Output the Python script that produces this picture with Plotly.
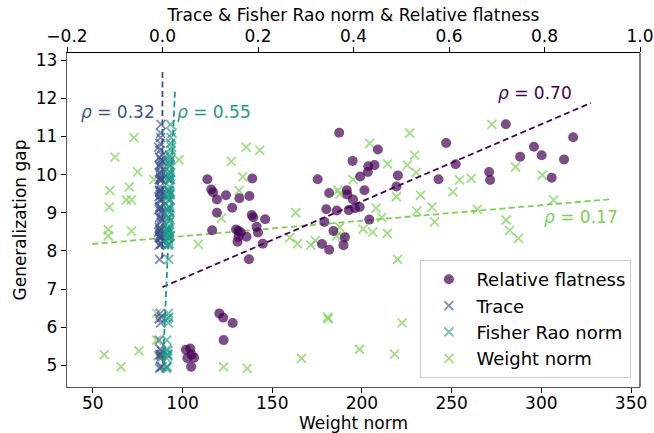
import plotly.graph_objects as go

# ---------------- data ----------------
# Generalization gap per model (shared by Weight norm, Trace, Fisher Rao norm)
gap = [10.97, 10.46, 10.07, 9.87, 9.58, 9.68, 9.34, 9.34, 9.15, 8.56, 8.39, 8.52,
       10.39, 10.72, 10.35, 9.94, 9.58, 8.86, 10.64, 8.17,
       5.28, 4.96, 5.38, 6.36, 5.66, 5.25, 4.96, 4.92, 5.18, 6.26, 6.22, 5.42, 5.29, 6.11, 7.78,
       9.00, 8.35, 8.19, 8.15, 8.27, 8.39, 8.62, 8.36, 8.57, 8.49, 8.46, 9.12, 8.88,
       9.87, 10.82, 10.28, 10.25, 11.09, 10.51, 10.05, 9.04, 9.59, 9.49, 9.42, 9.46,
       9.15, 8.76, 9.55, 9.86, 9.90, 9.09, 11.32, 10.20, 8.81, 8.54, 8.33, 9.99, 9.33]

weight_norm = [72.9, 62.3, 75.0, 84.0, 59.5, 70.3, 68.7, 71.5, 59.2, 58.6, 58.6, 71.6,
               98.0, 135.5, 127.2, 133.6, 131.5, 121.6, 143.1, 108.8,
               56.4, 65.7, 75.7, 85.5, 85.5, 86.4, 122.9, 136.0, 166.3, 180.9, 181.2, 198.7, 218.2, 222.4, 219.9,
               163.1, 159.8, 164.1, 171.5, 174.0, 185.9, 187.6, 189.3, 200.6, 206.0, 214.1, 207.9, 211.0,
               195.0, 204.3, 214.3, 225.3, 226.6, 229.4, 230.2, 230.6, 186.7, 187.6, 219.2, 232.7,
               239.0, 240.5, 250.7, 254.4, 260.9, 264.3, 272.4, 285.6, 280.4, 282.3, 287.3, 300.5, 306.8]

trace = [-0.004, -0.006, -0.002, -0.007, -0.003, -0.005, -0.001, -0.006, -0.004, -0.002, -0.007, -0.005,
         -0.003, -0.008, -0.001, -0.004, -0.006, -0.002, -0.005, -0.003,
         -0.006, -0.004, -0.002, -0.005, -0.007, -0.003, -0.001, -0.006, -0.004, -0.002, -0.007, -0.005,
         -0.003, -0.004, -0.006,
         -0.002, -0.005, -0.003, -0.007, -0.001, -0.004, -0.006, -0.002, -0.005, -0.008, -0.003, -0.004, -0.006,
         -0.002, -0.005, -0.003, -0.007, -0.004, -0.001, -0.006, -0.003, -0.005, -0.002, -0.007, -0.004,
         -0.006, -0.003, -0.005, -0.002, -0.004, -0.007, -0.003, -0.005, -0.001, -0.006, -0.004, -0.002, -0.005]

fisher_rao = [0.018, 0.016, 0.014, 0.017, 0.013, 0.015, 0.012, 0.016, 0.014, 0.011, 0.015, 0.013,
              0.017, 0.019, 0.014, 0.016, 0.012, 0.014, 0.018, 0.013,
              0.010, 0.008, 0.011, 0.012, 0.009, 0.011, 0.010, 0.008, 0.009, 0.013, 0.010, 0.009,
              0.011, 0.012, 0.013,
              0.015, 0.012, 0.014, 0.011, 0.013, 0.016, 0.012, 0.014, 0.013, 0.015, 0.011, 0.016, 0.013,
              0.015, 0.017, 0.014, 0.016, 0.020, 0.015, 0.017, 0.013, 0.014, 0.016, 0.012, 0.015,
              0.013, 0.014, 0.016, 0.013, 0.015, 0.012, 0.017, 0.014, 0.016, 0.012, 0.013, 0.015, 0.014]

rel_flatness = [0.094, 0.102, 0.106, 0.114, 0.133, 0.161, 0.182, 0.188, 0.146, 0.114, 0.104, 0.187,
                0.190, 0.215, 0.197, 0.200, 0.154, 0.159, 0.164, 0.159, 0.157, 0.176, 0.210, 0.181,
                0.325, 0.370, 0.398, 0.451, 0.431, 0.444, 0.430, 0.414, 0.493, 0.490, 0.423, 0.349,
                0.386, 0.387, 0.399, 0.403, 0.413, 0.343, 0.365, 0.390, 0.339, 0.433, 0.358, 0.382,
                0.379, 0.334, 0.349, 0.719, 0.594, 0.614, 0.578, 0.684, 0.686, 0.749, 0.778, 0.794,
                0.841, 0.860, 0.815, 0.119, 0.127, 0.147, 0.128, 0.049, 0.058, 0.061, 0.052, 0.066, 0.060]
rel_flatness_gap = [9.88, 9.61, 9.54, 9.35, 9.46, 9.38, 9.44, 9.90, 9.13, 9.00, 8.54, 8.94,
                    8.88, 8.83, 8.63, 8.48, 8.56, 8.52, 8.48, 8.37, 8.24, 8.37, 8.19, 7.78,
                    9.88, 11.10, 10.36, 10.66, 10.22, 10.25, 10.07, 9.95, 9.98, 9.69, 9.59, 9.52,
                    9.59, 9.48, 9.35, 9.12, 9.15, 9.09, 9.06, 9.07, 8.76, 8.82, 8.52, 8.36,
                    8.15, 8.18, 8.03, 11.32, 10.83, 10.27, 9.88, 10.07, 9.86, 10.47, 10.73, 10.51,
                    10.40, 10.98, 9.92, 6.36, 6.25, 6.11, 5.66, 5.41, 5.44, 5.28, 5.19, 5.20, 4.96]

# fitted trend lines (end points)
fit_rf_x, fit_rf_y = [0.0, 0.897], [7.05, 11.88]
fit_tr_x, fit_tr_y = [-0.0005, 0.0], [7.8, 12.75]
fit_fr_x, fit_fr_y = [0.001, 0.026], [5.05, 12.17]
fit_wn_x, fit_wn_y = [49.7, 339.6], [8.18, 9.36]

rho_labels = ["0.70", "0.32", "0.55", "0.17"]

# ---------------- style ----------------
C_RF, C_TR, C_FR, C_WN = "#440154", "#3b528b", "#1f9a8a", "#7ad151"
FONT = "DejaVu Sans"
FS = 17

fig = go.Figure()

dash = "6px,3.5px"
# weight norm (bottom axis) first -> drawn underneath
fig.add_trace(go.Scatter(x=fit_wn_x, y=fit_wn_y, mode="lines", xaxis="x", yaxis="y",
                         line=dict(color=C_WN, width=1.8, dash=dash), showlegend=False, hoverinfo="skip"))
fig.add_trace(go.Scatter(x=weight_norm, y=gap, mode="markers", name="Weight norm", xaxis="x", yaxis="y",
                         legendrank=4, legendgroup="d",
                         marker=dict(symbol="x-thin", size=9, opacity=0.7, color=C_WN,
                                     line=dict(color=C_WN, width=1.8))))

for fx, fy, c in [(fit_rf_x, fit_rf_y, C_RF), (fit_tr_x, fit_tr_y, C_TR), (fit_fr_x, fit_fr_y, C_FR)]:
    fig.add_trace(go.Scatter(x=fx, y=fy, mode="lines", xaxis="x2", yaxis="y",
                             line=dict(color=c, width=1.8, dash=dash), showlegend=False, hoverinfo="skip"))

fig.add_trace(go.Scatter(x=trace, y=gap, mode="markers", name="Trace", xaxis="x2", yaxis="y",
                         legendrank=2, legendgroup="b",
                         marker=dict(symbol="x-thin", size=9, opacity=0.65, color=C_TR,
                                     line=dict(color=C_TR, width=1.8))))
fig.add_trace(go.Scatter(x=fisher_rao, y=gap, mode="markers", name="Fisher Rao norm", xaxis="x2", yaxis="y",
                         legendrank=3, legendgroup="c",
                         marker=dict(symbol="x-thin", size=9, opacity=0.65, color=C_FR,
                                     line=dict(color=C_FR, width=1.8))))
fig.add_trace(go.Scatter(x=rel_flatness, y=rel_flatness_gap, mode="markers", name="Relative flatness",
                         xaxis="x2", yaxis="y", legendrank=1, legendgroup="a",
                         marker=dict(symbol="circle", size=10, opacity=0.7, color=C_RF, line=dict(width=0))))

ann = [
    dict(x=0.781, y=12.15, text="<i>ρ</i> = " + rho_labels[0], color=C_RF),
    dict(x=-0.093, y=11.65, text="<i>ρ</i> = " + rho_labels[1], color=C_TR),
    dict(x=0.107, y=11.65, text="<i>ρ</i> = " + rho_labels[2], color=C_FR),
    dict(x=0.876, y=8.89, text="<i>ρ</i> = " + rho_labels[3], color=C_WN),
]
annotations = [dict(x=a["x"], y=a["y"], xref="x2", yref="y", text=a["text"], showarrow=False,
                    font=dict(family=FONT, size=FS, color=a["color"]), xanchor="center", yanchor="middle")
               for a in ann]

axis_common = dict(showgrid=False, zeroline=False, ticks="outside", ticklen=5, tickwidth=1,
                   tickcolor="black", tickfont=dict(family=FONT, size=FS, color="black"), showline=True,
                   automargin=False)

fig.update_layout(
    width=654, height=433,
    margin=dict(l=67, r=14, t=53, b=46, pad=0),
    paper_bgcolor="white", plot_bgcolor="white",
    font=dict(family=FONT, size=FS, color="black"),
    xaxis=dict(range=[35.6, 355], tickvals=[50, 100, 150, 200, 250, 300, 350],
               linecolor="#555555", linewidth=1.3, ticklabelstandoff=-5,
               title=dict(text="Weight norm", font=dict(family=FONT, size=FS), standoff=9),
               **axis_common),
    xaxis2=dict(range=[-0.2, 1.0], tickvals=[-0.2, 0.0, 0.2, 0.4, 0.6, 0.8, 1.0], tickformat=".1f",
                overlaying="x", side="top", anchor="y", linecolor="black", linewidth=1,
                ticklabelstandoff=-2,
                title=dict(text="Trace & Fisher Rao norm & Relative flatness", font=dict(family=FONT, size=FS),
                           standoff=0),
                **axis_common),
    yaxis=dict(range=[4.43, 13.19], tickvals=[5, 6, 7, 8, 9, 10, 11, 12, 13],
               linecolor="#555555", linewidth=1.3,
               title=dict(text="Generalization gap", font=dict(family=FONT, size=FS), standoff=4),
               **axis_common),
    legend=dict(x=0.985, y=0.027, xanchor="right", yanchor="bottom",
                bgcolor="rgba(255,255,255,0.85)", bordercolor="#cccccc", borderwidth=1,
                font=dict(family=FONT, size=18), tracegroupgap=6, itemwidth=45, traceorder="normal"),
    annotations=annotations,
    shapes=[dict(type="line", xref="paper", yref="paper", x0=1, x1=1, y0=0, y1=1,
                 line=dict(color="black", width=1))],
)

fig.write_html("out.html")
